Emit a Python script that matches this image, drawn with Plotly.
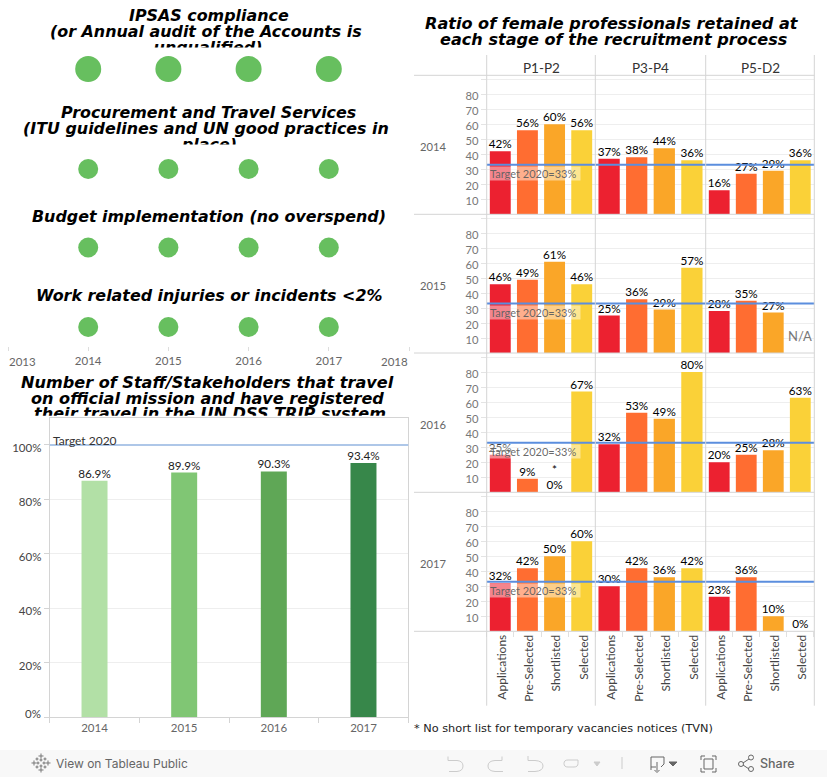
import plotly.graph_objects as go

W, H = 827, 777
# ---- data ----
DOT_YEARS = [2014, 2015, 2016, 2017]
DOT_STATUS_IPSAS = [1, 1, 1, 1]
DOT_STATUS_PROC = [1, 1, 1, 1]
DOT_STATUS_BUDGET = [1, 1, 1, 1]
DOT_STATUS_INJURY = [1, 1, 1, 1]

TRAVEL_YEARS = ["2014", "2015", "2016", "2017"]
TRAVEL_VALUES = [86.9, 89.9, 90.3, 93.4]
TRAVEL_TARGET = 100

STAGES = ["Applications", "Pre-Selected", "Shortlisted", "Selected"]
GRADES = ["P1-P2", "P3-P4", "P5-D2"]
YEARS = ["2014", "2015", "2016", "2017"]
R2014 = [[42, 56, 60, 56], [37, 38, 44, 36], [16, 27, 29, 36]]
R2015 = [[46, 49, 61, 46], [25, 36, 29, 57], [28, 35, 27, None]]
R2016 = [[25, 9, 0, 67], [32, 53, 49, 80], [20, 25, 28, 63]]
R2017 = [[32, 42, 50, 60], [30, 42, 36, 42], [23, 36, 10, 0]]
RATIOS = [R2014, R2015, R2016, R2017]
TARGET = 33
Y_TICKS = [10, 20, 30, 40, 50, 60, 70, 80, 90]

# ---- style ----
STAGE_COLORS = ["#ec2130", "#ff6d31", "#faa628", "#fad138"]
TRAVEL_COLORS = ["#b2e0a6", "#80c674", "#5fa756", "#37874a"]
DOT_COLOR = "#67bf5f"
LINE = "#d4d4d4"
GRID = "#eeeeee"
LATO = "Lato"
DJ = "DejaVu Sans"


def fx(x):
    return x / W


def fy(y):
    return 1 - y / H


def xd(a, b):
    return [fx(a), fx(b)]


def yd(top, bottom):
    return [fy(bottom), fy(top)]


def P(*tok):
    out, i = [], 0
    while i < len(tok):
        t = tok[i]
        if isinstance(t, str):
            out.append(t)
            i += 1
        else:
            out.append(f"{fx(t):.5f},{fy(tok[i+1]):.5f}")
            i += 2
    return " ".join(out)


fig = go.Figure()
annots, shapes = [], []
layout = {}


def title_line(text, cx, cy, clip_bottom=None, size=16.1):
    a = dict(text=text, xref="paper", yref="paper", x=fx(cx), showarrow=False,
             font=dict(family=DJ, size=size, color="#000000", weight="bold", style="italic"),
             xanchor="center")
    if clip_bottom is None:
        a.update(y=fy(cy), yanchor="middle")
    else:
        top = cy - 10
        a.update(y=fy(top), yanchor="top", height=clip_bottom - top, valign="top", borderpad=0, borderwidth=0)
        a["width"] = 400
    annots.append(a)


# ---- titles ----
TL = 15.9
title_line("IPSAS compliance", 208.8, 15.5, size=TL)
title_line("(or Annual audit of the Accounts is", 205.5, 31.5, size=TL)
title_line("unqualified)", 208, 47.5, clip_bottom=47, size=TL)
title_line("Procurement and Travel Services", 208.7, 112.5, size=TL)
title_line("(ITU guidelines and UN good practices in", 205.8, 128.5, size=TL)
title_line("place)", 209, 144.5, clip_bottom=144, size=TL)
title_line("Budget implementation (no overspend)", 209, 216.5, size=TL)
title_line("Work related injuries or incidents &lt;2%", 209, 295.5, size=TL)
title_line("Number of Staff/Stakeholders that travel", 207.8, 382.3)
title_line("on official mission and have registered", 207.3, 398.3)
title_line("their travel in the UN DSS TRIP system", 210.5, 414.3, clip_bottom=416)
title_line("Ratio of female professionals retained at", 611.5, 23.5)
title_line("each stage of the recruitment process", 614, 39.5)

# ---- facet grid (right) ----
COL_X = [486.7, 595.3, 705.7, 814.3]
ROW_Y = [75.3, 214.3, 353.0, 492.3, 631.3]
for c in range(3):
    name = "xaxis" if c == 0 else f"xaxis{c+1}"
    layout[name] = dict(
        domain=xd(COL_X[c], COL_X[c + 1]), anchor="y4", type="category",
        categoryorder="array", categoryarray=STAGES,
        tickson="boundaries", ticks="outside", ticklen=5, tickcolor="#e0e0e0",
        tickangle=-90, tickfont=dict(family=LATO, size=12, color="#444444"),
        showgrid=False, showline=False, zeroline=False, ticklabelshift=2, ticklabelstandoff=0,
    )
for r in range(4):
    name = "yaxis" if r == 0 else f"yaxis{r+1}"
    layout[name] = dict(
        domain=yd(ROW_Y[r], ROW_Y[r + 1]), anchor="x", range=[0, 92.7],
        tickvals=Y_TICKS, ticktext=[str(v) if v < 90 else "" for v in Y_TICKS],
        ticks="outside", ticklen=5, tickcolor="#e4e4e4",
        tickfont=dict(family=LATO, size=11.2, color="#777777"),
        showgrid=True, gridcolor=GRID, gridwidth=1, zeroline=False, showline=False,
        ticklabelshift=2,
    )
    for c in range(3):
        vals = RATIOS[r][c]
        xname = "x" if c == 0 else f"x{c+1}"
        yname = "y" if r == 0 else f"y{r+1}"
        text = ["" if v is None else f"{v}%" for v in vals]
        if YEARS[r] == "2016" and GRADES[c] == "P1-P2":
            text[2] = "*<br>0%"
        fig.add_trace(go.Bar(
            x=STAGES, y=vals, xaxis=xname, yaxis=yname,
            marker=dict(color=STAGE_COLORS, line=dict(width=0)),
            showlegend=False, hoverinfo="skip",
        ))
        fig.add_trace(go.Scatter(
            x=STAGES, y=vals, xaxis=xname, yaxis=yname, mode="text", text=text,
            textposition="top center", cliponaxis=False,
            textfont=dict(family=LATO, size=11.7, color="#000000"),
            showlegend=False, hoverinfo="skip",
        ))
        shapes.append(dict(type="line", xref=f"{xname} domain", yref=yname,
                           x0=0, x1=1, y0=TARGET, y1=TARGET,
                           line=dict(color="#5b8ede", width=2), layer="above"))
    annots.append(dict(text="Target 2020=33%", xref="x domain",
                       yref="y" if r == 0 else f"y{r+1}", x=0.02, y=TARGET, yanchor="top", xanchor="left",
                       yshift=-1.5, showarrow=False, width=90, height=12.5, borderpad=0, align="left",
                       bgcolor="rgba(255,255,255,0.45)",
                       font=dict(family=LATO, size=11, color="rgba(95,95,95,0.95)")))
    annots.append(dict(text=YEARS[r], xref="paper", yref="paper", x=fx(433),
                       y=fy((ROW_Y[r] + ROW_Y[r + 1]) / 2 + 2), showarrow=False,
                       font=dict(family=LATO, size=11.2, color="#666666")))

for c, g in enumerate(GRADES):
    annots.append(dict(text=g, xref="paper", yref="paper", x=fx((COL_X[c] + COL_X[c + 1]) / 2),
                       y=fy(68), showarrow=False, font=dict(family=LATO, size=13.5, color="#333333")))
annots.append(dict(text="N/A", xref="x3", yref="y2", x="Selected", y=0, yshift=7, yanchor="bottom",
                   showarrow=False, font=dict(family=LATO, size=13, color="#777777")))
for y in [75.3, 214.3, 353.0, 492.3, 631.3]:
    shapes.append(dict(type="line", xref="paper", yref="paper", x0=fx(414), x1=fx(814.3), y0=fy(y), y1=fy(y),
                       line=dict(color=LINE, width=1), layer="above"))
for x in COL_X:
    shapes.append(dict(type="line", xref="paper", yref="paper", x0=fx(x), x1=fx(x), y0=fy(55), y1=fy(705.7),
                       line=dict(color=LINE, width=1), layer="above"))

annots.append(dict(text="* No short list for temporary vacancies notices (TVN)", xref="paper", yref="paper",
                   x=fx(412), y=fy(728), xanchor="left", showarrow=False,
                   font=dict(family=DJ, size=11.3, color="#222222")))

# ---- travel bars (bottom-left) ----
layout["xaxis4"] = dict(domain=xd(49.7, 408.3), anchor="y5", type="category",
                        tickson="boundaries", ticks="outside", ticklen=5, tickcolor=LINE,
                        tickfont=dict(family=LATO, size=11.5, color="#666666"),
                        showgrid=False, showline=True, linecolor=LINE, mirror=True, zeroline=False)
layout["yaxis5"] = dict(domain=yd(418.3, 717.3), anchor="x4", range=[0, 109.8],
                        tickvals=[0, 20, 40, 60, 80, 100],
                        ticktext=["", "20%", "40%", "60%", "80%", "100%"],
                        ticks="outside", ticklen=5, tickcolor=LINE,
                        tickfont=dict(family=LATO, size=11.5, color="#444444"),
                        showgrid=True, gridcolor=GRID, zeroline=False, showline=True, linecolor=LINE, mirror=True,
                        ticklabelshift=3)
fig.add_trace(go.Bar(x=TRAVEL_YEARS, y=TRAVEL_VALUES, xaxis="x4", yaxis="y5",
                     marker=dict(color=TRAVEL_COLORS, line=dict(width=0)), width=0.29,
                     showlegend=False, hoverinfo="skip"))
fig.add_trace(go.Scatter(x=TRAVEL_YEARS, y=TRAVEL_VALUES, xaxis="x4", yaxis="y5", mode="text",
                         text=[f"{v:.1f}%" for v in TRAVEL_VALUES], textposition="top center", cliponaxis=False,
                         textfont=dict(family=LATO, size=11.7, color="#222222"),
                         showlegend=False, hoverinfo="skip"))
shapes.append(dict(type="line", xref="x4 domain", yref="y5", x0=0, x1=1, y0=TRAVEL_TARGET, y1=TRAVEL_TARGET,
                   line=dict(color="#aec7e8", width=2), layer="above"))
annots.append(dict(text="Target 2020", xref="paper", yref="paper", x=fx(50.5), y=fy(440), xanchor="left",
                   showarrow=False, font=dict(family=LATO, size=12, color="#333333")))
annots.append(dict(text="0%", xref="paper", yref="paper", x=fx(42), y=fy(713), xanchor="right",
                   showarrow=False, borderpad=0, font=dict(family=LATO, size=11.5, color="#444444")))

# ---- dot rows (top-left) ----
DOT_ROWS = [(DOT_STATUS_IPSAS, 69, 26), (DOT_STATUS_PROC, 169, 20), (DOT_STATUS_BUDGET, 247.5, 20),
            (DOT_STATUS_INJURY, 327, 20)]
for i, (vals, cy, size) in enumerate(DOT_ROWS):
    n = 6 + i
    half = 19
    layout[f"yaxis{n}"] = dict(domain=yd(cy - half, cy + half), anchor="x5", range=[0, 2], visible=False)
    fig.add_trace(go.Scatter(x=DOT_YEARS, y=vals, xaxis="x5", yaxis=f"y{n}", mode="markers",
                             marker=dict(color=DOT_COLOR, size=size, line=dict(width=0)),
                             showlegend=False, hoverinfo="skip", cliponaxis=False))
layout["xaxis5"] = dict(domain=xd(8, 409), anchor="y9", range=[2013, 2018],
                        tickvals=[2013, 2014, 2015, 2016, 2017, 2018],
                        ticktext=["", "2014", "2015", "2016", "2017", ""],
                        ticks="outside", ticklen=4, tickcolor="#dddddd",
                        tickfont=dict(family=LATO, size=11.5, color="#666666"),
                        showgrid=False, showline=False, zeroline=False)
annots.append(dict(text="2013", xref="paper", yref="paper", x=fx(22.7), y=fy(361), showarrow=False,
                   font=dict(family=LATO, size=11.5, color="#666666")))
annots.append(dict(text="2018", xref="paper", yref="paper", x=fx(394), y=fy(361), showarrow=False,
                   font=dict(family=LATO, size=11.5, color="#666666")))

# ---- toolbar ----
shapes.insert(0, dict(type="rect", xref="paper", yref="paper", x0=0, x1=1, y0=0, y1=fy(750),
                      fillcolor="#f8f8f8", line=dict(width=0), layer="below"))
annots.append(dict(text="View on Tableau Public", xref="paper", yref="paper", x=fx(54), y=fy(763.5), xanchor="left",
                   showarrow=False, font=dict(family="Inter", size=12, color="#666666")))
annots.append(dict(text="Share", xref="paper", yref="paper", x=fx(758), y=fy(763.5), xanchor="left",
                   showarrow=False, font=dict(family="Inter", size=12.5, color="#666666", weight=500)))


def icon(path, color="#cccccc", width=1, fill=None):
    s = dict(type="path", xref="paper", yref="paper", path=path, line=dict(color=color, width=width), layer="above")
    if fill:
        s["fillcolor"] = fill
    shapes.append(s)


# snowflake logo
for dx, dy, r in [(0, -7, 2.5), (0, 7, 2.5), (-7, 0, 2.5), (7, 0, 2.5), (-4, -4, 1.5), (4, -4, 1.5), (-4, 4, 1.5), (4, 4, 1.5),
                  (0, -3, 1.5), (0, 3, 1.5), (-3, 0, 1.5), (3, 0, 1.5)]:
    cx, cy = 41 + dx, 763 + dy
    icon(P("M", cx - r, cy, "L", cx + r, cy, "M", cx, cy - r, "L", cx, cy + r), color="#777777")
# undo
icon(P("M", 448, 756.5, "L", 448, 760.5, "L", 457, 760.5, "Q", 463, 761, 463, 766, "Q", 463, 771, 457, 771.5, "L", 449, 771.5))
# redo
icon(P("M", 502, 756.5, "L", 502, 760.5, "L", 495, 760.5, "Q", 488, 761, 488, 766, "Q", 488, 771, 495, 771.5, "L", 503, 771.5))
# revert
icon(P("M", 528, 756, "L", 528, 760.5, "L", 535, 760.5, "Q", 543, 761, 543, 766, "Q", 543, 771, 535, 771.5, "L", 528, 771.5))
# refresh
icon(P("M", 578, 760, "L", 568, 760, "Q", 564, 760, 564, 763.5, "Q", 564, 767, 568, 767, "L", 574, 767, "Q", 578, 767, 578, 763.5, "L", 578, 760))
# dropdown carets
icon(P("M", 594, 762, "L", 600, 762, "L", 597, 766, "Z"), color="#cccccc", fill="#cccccc")
icon(P("M", 669, 762, "L", 677, 762, "L", 673, 766, "Z"), color="#666666", fill="#666666")
# separator
icon(P("M", 622, 757, "L", 622, 769), color="#cccccc")
# download
icon(P("M", 651, 770, "L", 651, 757, "L", 664, 757, "M", 664, 757, "L", 664, 764, "L", 661, 767, "M", 651, 767, "L", 656, 767,
       "M", 657, 762, "L", 657, 771, "M", 654.5, 770, "L", 657, 772.5, "L", 659.5, 770), color="#666666")
# fullscreen
icon(P("M", 701, 760, "L", 701, 756, "L", 705, 756, "M", 712, 756, "L", 716, 756, "L", 716, 760,
       "M", 716, 768, "L", 716, 772, "L", 712, 772, "M", 705, 772, "L", 701, 772, "L", 701, 768,
       "M", 704, 759, "L", 713, 759, "L", 713, 769, "L", 704, 769, "Z"), color="#666666")
# share
icon(P("M", 743, 763, "L", 749, 759, "M", 743, 765, "L", 749, 769), color="#666666")
for cx, cy in [(741, 764), (751, 757.5), (751, 769)]:
    icon(P("M", cx - 2.5, cy, "Q", cx - 2.5, cy - 2.5, cx, cy - 2.5, "Q", cx + 2.5, cy - 2.5, cx + 2.5, cy,
           "Q", cx + 2.5, cy + 2.5, cx, cy + 2.5, "Q", cx - 2.5, cy + 2.5, cx - 2.5, cy, "Z"), color="#666666")

for a in annots:
    a.setdefault("xanchor", "center")
    a.setdefault("yanchor", "middle")

fig.update_layout(width=W, height=H, autosize=False, margin=dict(l=0, r=0, t=0, b=0, pad=0),
                  paper_bgcolor="white", plot_bgcolor="white", barmode="group", bargap=0.23,
                  showlegend=False, annotations=annots, shapes=shapes, **layout)
fig.write_html("out.html", config={"displayModeBar": False},
               post_script="document.body.style.margin='0';document.body.style.overflow='hidden';")
